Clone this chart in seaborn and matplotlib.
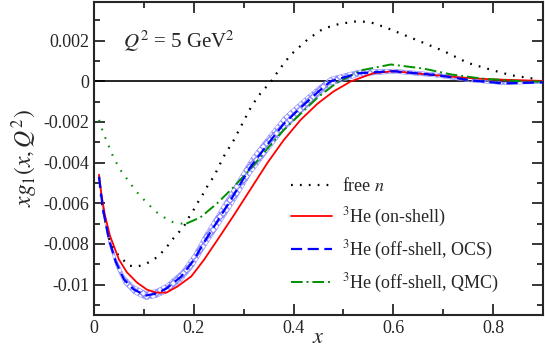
import matplotlib
matplotlib.use("Agg")
import pandas as pd
import seaborn as sns
from matplotlib import pyplot as plt
from matplotlib.ticker import MultipleLocator, FuncFormatter

# free neutron
x_free = [0.01, 0.015, 0.022, 0.032, 0.048, 0.07, 0.086, 0.103, 0.117, 0.13, 0.14,
          0.151, 0.16, 0.171, 0.181, 0.19, 0.198, 0.207, 0.215, 0.231, 0.24, 0.26,
          0.28, 0.297, 0.314, 0.33, 0.355, 0.372, 0.394, 0.43, 0.46, 0.488, 0.52,
          0.535, 0.555, 0.585, 0.615, 0.66, 0.70, 0.75, 0.80, 0.836, 0.89]
y_free = [-0.0047, -0.0059, -0.0068, -0.0079, -0.00853, -0.00907, -0.00912, -0.0090,
          -0.0088, -0.0086, -0.0083, -0.0080, -0.0077, -0.0074, -0.0071, -0.0067,
          -0.0064, -0.0060, -0.0057, -0.0050, -0.0047, -0.0037, -0.0029, -0.0021,
          -0.0013, -0.0007, 0.0, 0.0006, 0.0013, 0.0021, 0.0026, 0.0028, 0.00294,
          0.00295, 0.0029, 0.00265, 0.00235, 0.0019, 0.0015, 0.0009, 0.00054,
          0.0003, 0.0001]

# 3He on-shell
x_on = [0.01, 0.015, 0.022, 0.032, 0.05, 0.066, 0.086, 0.106, 0.125, 0.145, 0.167,
        0.195, 0.22, 0.253, 0.28, 0.314, 0.348, 0.38, 0.414, 0.448, 0.48, 0.515,
        0.56, 0.60, 0.66, 0.73, 0.795, 0.9]
y_on = [-0.0046, -0.0056, -0.0066, -0.0076, -0.00877, -0.0094, -0.0099, -0.01025,
        -0.0104, -0.0104, -0.0101, -0.0096, -0.0088, -0.0076, -0.0066, -0.0053,
        -0.0040, -0.0029, -0.0019, -0.0011, -0.0005, 0.0, 0.0004, 0.0005, 0.00036,
        0.0002, 0.0001, 0.00002]

# 3He off-shell OCS with uncertainty band
x_ocs = [0.01, 0.018, 0.03, 0.044, 0.06, 0.08, 0.104, 0.125, 0.145, 0.175, 0.20,
         0.221, 0.247, 0.28, 0.314, 0.348, 0.38, 0.414, 0.45, 0.474, 0.53, 0.60,
         0.69, 0.755, 0.82, 0.9]
y_ocs = [-0.0047, -0.0063, -0.0078, -0.0089, -0.00975, -0.01025, -0.01054, -0.01044,
         -0.0102, -0.0096, -0.0088, -0.0079, -0.0069, -0.0056, -0.0042, -0.0031,
         -0.0021, -0.0013, -0.0005, 0.0, 0.0004, 0.0005, 0.0003, 0.00005, -0.0001,
         -0.00005]
err_ocs = [0.00015, 0.0002, 0.0002, 0.0002, 0.0002, 0.0002, 0.0002, 0.0002, 0.00022,
           0.00025, 0.0003, 0.00033, 0.00036, 0.0004, 0.0004, 0.00038, 0.00035,
           0.0003, 0.00025, 0.0002, 0.00015, 0.0001, 0.0001, 0.00008, 0.00006, 0.00005]

# 3He off-shell QMC: dotted at low x, dash-dot above
x_qmc_lo = [0.01, 0.018, 0.028, 0.04, 0.054, 0.069, 0.084, 0.099, 0.123, 0.153, 0.173, 0.185]
y_qmc_lo = [-0.0019, -0.0025, -0.0031, -0.0038, -0.0044, -0.0049, -0.0054, -0.0058,
            -0.0064, -0.0069, -0.0070, -0.0070]
x_qmc = [0.185, 0.213, 0.247, 0.28, 0.314, 0.348, 0.38, 0.414, 0.448, 0.485, 0.535,
         0.595, 0.66, 0.716, 0.776, 0.86, 0.9]
y_qmc = [-0.0070, -0.0067, -0.0060, -0.0052, -0.0043, -0.0033, -0.0024, -0.0016,
         -0.0008, -0.0001, 0.00054, 0.00083, 0.00063, 0.00034, 0.00014, 0.0, -0.00002]

labels = ["free $n$", "$^3$He (on-shell)", "$^3$He (off-shell, OCS)",
          "$^3$He (off-shell, QMC)"]

sns.set_style("ticks")
plt.rcParams["font.family"] = ["Liberation Serif", "DejaVu Serif"]
plt.rcParams["mathtext.fontset"] = "stix"
plt.rcParams["font.size"] = 13

fig, ax = plt.subplots(figsize=(5.45, 3.5), dpi=100)
fig.subplots_adjust(left=0.1725, right=0.9963, bottom=0.1, top=0.994)

ax.axhline(0, color="black", lw=1.2, zorder=1)

ocs = pd.DataFrame({"x": x_ocs, "y": y_ocs, "e": err_ocs})
ax.fill_between(ocs.x, ocs.y - ocs.e, ocs.y + ocs.e, facecolor="none",
                edgecolor="#8c8cff", hatch="xxxxx", lw=0.4, zorder=2)

sns.lineplot(x=x_free, y=y_free, ax=ax, color="black", lw=1.6,
             ls=(0, (0.8, 3.2)), label=labels[0], zorder=3)
sns.lineplot(x=x_on, y=y_on, ax=ax, color="#ff0000", lw=1.3,
             label=labels[1], zorder=4)
sns.lineplot(x=x_ocs, y=y_ocs, ax=ax, color="#0000ff", lw=1.6,
             ls=(0, (5, 2.5)), label=labels[2], zorder=5)
sns.lineplot(x=x_qmc, y=y_qmc, ax=ax, color="#009000", lw=1.4,
             ls=(0, (6, 2, 1, 2)), label=labels[3], zorder=4)
sns.lineplot(x=x_qmc_lo, y=y_qmc_lo, ax=ax, color="#009000", lw=1.5,
             ls=(0, (0.8, 3.6)), zorder=4)

ax.set_xlim(0, 0.9)
ax.set_ylim(-0.0115, 0.0039)
ax.xaxis.set_major_locator(MultipleLocator(0.2))
ax.xaxis.set_minor_locator(MultipleLocator(0.1))
ax.yaxis.set_major_locator(MultipleLocator(0.002))
ax.yaxis.set_minor_locator(MultipleLocator(0.001))
ax.xaxis.set_major_formatter(FuncFormatter(lambda v, p: f"{v:g}"))
ax.yaxis.set_major_formatter(FuncFormatter(lambda v, p: f"{round(v, 4):g}"))
ax.tick_params(which="both", direction="in", top=True, right=True, width=1.3,
               labelsize=13)
ax.tick_params(which="major", length=8)
ax.tick_params(which="minor", length=4.5)
for s in ax.spines.values():
    s.set_linewidth(1.5)

ax.set_xlabel("$x$", fontsize=16, labelpad=-6)
ax.set_ylabel("$xg_1(x,Q^2)$", fontsize=17, labelpad=2)
ax.text(0.065, 0.875, "$Q^2$ = 5 GeV$^2$", transform=ax.transAxes,
        fontsize=15, va="center")

ax.legend(loc="upper left", bbox_to_anchor=(0.41, 0.48), frameon=False,
          fontsize=13, handlelength=2.3, handletextpad=0.55, labelspacing=0.55,
          borderpad=0.2)

plt.savefig("out.png", dpi=100)
